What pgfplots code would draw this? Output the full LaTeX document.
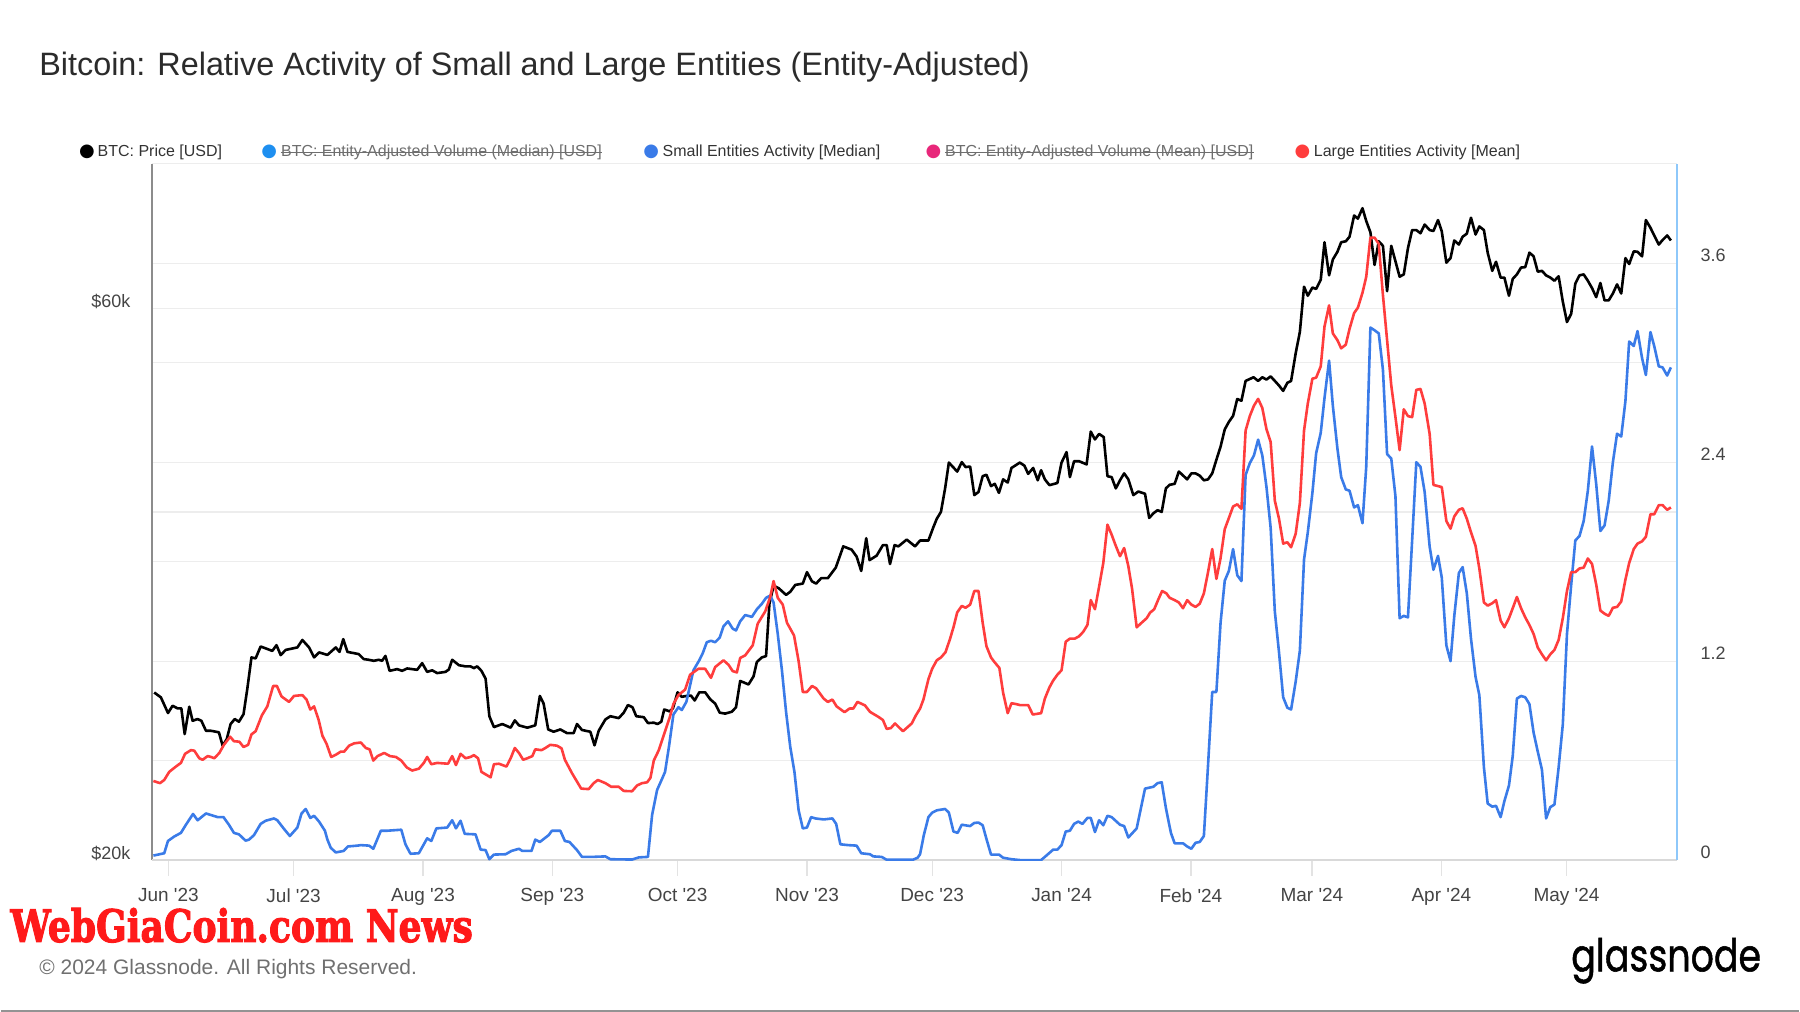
\documentclass[border=0pt]{standalone}
\usepackage{pgfplots}
\pgfplotsset{compat=1.18}
\usepackage{fontspec}
\usepackage{graphicx}
\setmainfont{Liberation Sans}
\newfontfamily\popfont{Poppins}[FakeBold=1.2]
\newfontfamily\wmfont{DejaVu Serif}[BoldFeatures={FakeBold=2.5}]
\newfontfamily\dejavu{DejaVu Sans}
\definecolor{blueS}{HTML}{3A7BE8}
\definecolor{redL}{HTML}{FF3D3D}
\definecolor{blueV}{HTML}{1E8FF0}
\definecolor{pinkV}{HTML}{E8277A}
\definecolor{gridc}{HTML}{EDEDED}
\definecolor{leftaxis}{HTML}{8C8C8C}
\definecolor{rightaxis}{HTML}{8EC8FA}
\definecolor{bottomaxis}{HTML}{D9D9D9}
\definecolor{tickc}{HTML}{E3E3E3}
\definecolor{ticktext}{HTML}{444444}
\definecolor{titlec}{HTML}{2B2B2B}
\definecolor{legtext}{HTML}{333333}
\definecolor{striketext}{HTML}{6E6E6E}
\definecolor{copyc}{HTML}{707070}
\definecolor{wmred}{HTML}{FF1A1A}
\begin{document}
\begin{tikzpicture}
\path (0,0) rectangle (900pt,506.5pt);
% ---------------- price axis (left, log) ----------------
\begin{axis}[
  set layers,
  at={(75.75pt,76pt)}, anchor=south west,
  scale only axis, width=763.25pt, height=348.5pt,
  xmin=-3.85, xmax=361.5,
  ymode=log, ymin=20, ymax=80,
  axis x line=none,
  axis y line*=left,
  y axis line style={draw=leftaxis, line width=0.9pt, -},
  ytick={20,40,60,80}, yticklabels={\$20k,,\$60k,},
  xtick=\empty,
  ymajorgrids, grid style={draw=gridc, line width=0.6pt},
  major tick length=0pt,
  yticklabel style={anchor=base east, inner sep=0pt, xshift=-10.75pt, yshift=0.5pt, font=\fontsize{9}{10}\selectfont, text=ticktext},
]
\addplot[black, line width=1.3pt, line join=round] coordinates {
(-3.4,27.92) (-1.8,27.65) (-0.1,26.80) (1.0,27.19) (2.2,27.05) (3.1,27.05) (3.9,25.70) (5.0,27.14) (5.8,26.39) (7.0,26.48) (7.9,26.39) (9.0,25.87) (10.2,25.87) (12.1,25.79) (13.0,25.11) (14.0,25.45) (14.9,26.22) (15.9,26.48) (16.9,26.34) (18.0,26.74) (18.9,28.11) (19.9,29.94) (20.9,29.88) (22.1,30.60) (24.9,30.33) (25.9,30.68) (26.9,30.08) (28.1,30.39) (30.9,30.54) (32.1,31.00) (33.7,30.54) (34.9,29.94) (36.1,30.24) (38.1,30.09) (40.1,30.54) (41.0,30.27) (41.9,31.05) (42.9,30.27) (45.6,30.14) (46.8,29.84) (48.0,29.80) (49.2,29.74) (50.4,29.80) (51.2,29.74) (52.0,30.03) (53.0,29.15) (54.8,29.25) (56.0,29.15) (57.2,29.29) (59.6,29.21) (60.8,29.60) (62.0,29.09) (63.2,29.18) (64.4,29.02) (66.4,29.09) (67.2,29.23) (68.0,29.80) (69.6,29.48) (71.2,29.41) (72.4,29.41) (73.2,29.31) (74.0,29.41) (75.0,29.15) (76.0,28.70) (76.9,26.63) (78.0,26.06) (80.0,26.22) (82.0,26.03) (83.0,26.41) (84.0,26.15) (86.0,26.03) (87.9,26.15) (89.0,27.73) (89.9,27.31) (91.0,25.94) (92.3,25.82) (93.9,25.94) (95.5,25.75) (97.1,25.75) (97.9,26.22) (99.1,25.91) (101.1,25.82) (102.1,25.13) (103.1,25.87) (104.7,26.46) (105.9,26.63) (107.9,26.53) (109.1,26.82) (110.1,27.23) (111.2,27.11) (112.1,26.63) (113.9,26.58) (114.9,26.27) (116.3,26.29) (117.2,26.22) (118.1,26.34) (118.8,26.99) (120.1,26.89) (120.9,27.06) (122.0,27.93) (123.0,27.68) (124.2,27.73) (125.2,27.75) (126.1,27.48) (127.2,27.93) (128.6,27.93) (129.8,27.55) (131.0,27.31) (132.1,26.82) (133.4,26.77) (135.0,26.87) (136.0,27.11) (137.0,28.57) (139.0,28.37) (140.2,28.83) (141.0,29.67) (142.2,29.94) (143.2,30.02) (144.0,33.31) (145.0,34.53) (146.2,34.37) (148.0,33.91) (149.0,34.12) (150.2,34.59) (152.0,34.68) (153.0,35.48) (154.2,34.84) (155.2,34.68) (156.4,35.06) (158.0,35.06) (159.9,35.80) (161.7,37.35) (163.7,37.11) (164.9,36.60) (166.0,35.57) (167.2,37.96) (168.0,36.34) (169.7,36.67) (171.2,37.45) (172.1,37.45) (172.9,36.06) (174.0,37.45) (174.9,37.35) (176.9,37.86) (178.9,37.35) (180.1,37.79) (182.1,37.79) (183.3,38.82) (184.1,39.46) (185.1,40.00) (186.1,41.92) (187.0,44.13) (189.0,43.35) (190.1,44.17) (191.0,43.74) (192.1,43.78) (193.1,41.36) (194.1,41.62) (195.1,42.95) (196.0,43.07) (197.1,42.11) (198.0,42.30) (199.0,41.55) (200.0,42.68) (201.1,42.41) (202.0,43.66) (204.0,44.13) (205.1,43.86) (206.0,43.15) (207.2,43.66) (208.3,42.60) (209.1,43.46) (210.0,42.68) (211.1,42.19) (213.0,42.37) (214.0,44.13) (215.2,45.06) (216.0,42.87) (217.0,44.25) (218.2,44.25) (220.0,43.97) (221.0,46.93) (222.0,46.21) (223.0,46.72) (224.1,46.43) (225.0,42.95) (226.0,42.87) (227.0,41.92) (228.0,42.60) (229.0,43.19) (230.0,42.68) (231.2,41.36) (232.4,41.66) (234.0,41.47) (235.0,39.53) (236.0,39.89) (237.0,40.14) (238.0,40.00) (239.0,41.92) (239.9,42.22) (241.1,42.30) (242.1,43.35) (244.1,42.68) (245.1,43.19) (246.1,43.19) (247.1,43.00) (248.1,42.60) (249.1,42.68) (250.1,43.19) (251.1,44.38) (252.1,45.55) (253.1,47.14) (254.1,47.86) (255.1,48.43) (256.1,50.09) (257.1,49.91) (258.1,51.92) (260.0,52.30) (261.1,51.92) (262.1,52.30) (263.1,52.06) (264.1,52.39) (265.1,51.92) (266.1,51.45) (267.1,50.90) (268.1,51.73) (269.0,51.92) (270.1,54.87) (271.1,57.24) (272.1,62.64) (273.0,61.52) (274.1,62.53) (275.0,62.36) (276.1,63.50) (277.0,68.44) (278.1,64.07) (279.0,66.13) (280.1,67.15) (281.0,68.44) (282.1,68.56) (283.0,69.19) (284.1,72.18) (285.0,71.73) (286.1,73.23) (287.0,71.41) (288.0,69.81) (289.0,65.41) (290.0,68.56) (291.0,67.95) (292.0,62.08) (293.0,67.95) (295.0,63.90) (296.0,64.19) (297.0,67.64) (298.0,70.12) (299.0,70.12) (300.0,69.68) (301.0,70.89) (302.2,70.12) (303.1,69.99) (304.2,71.53) (305.1,69.93) (306.2,65.71) (307.2,66.31) (308.1,68.68) (309.2,68.12) (310.1,69.19) (311.1,69.62) (312.1,71.86) (313.2,69.50) (314.1,70.63) (315.2,70.12) (316.1,67.03) (317.2,64.65) (318.1,65.83) (319.2,63.79) (320.1,63.79) (321.2,61.52) (322.1,63.62) (323.1,64.19) (324.1,65.07) (325.1,65.13) (326.1,67.03) (327.1,66.55) (328.1,64.54) (329.1,64.65) (330.1,64.07) (331.1,63.79) (332.1,63.39) (333.1,63.96) (334.1,60.80) (335.1,58.38) (336.1,59.34) (337.1,63.04) (338.1,64.07) (339.1,64.19) (340.1,63.39) (341.1,62.47) (342.1,61.35) (343.1,63.10) (344.1,60.96) (345.1,60.96) (346.1,61.80) (347.1,62.93) (348.1,61.80) (349.1,66.31) (350.0,65.53) (351.1,67.21) (352.0,67.15) (353.1,66.55) (354.0,71.53) (355.1,70.44) (356.0,69.37) (357.1,68.12) (358.0,68.74) (359.1,69.37) (360.0,68.68)
};
\end{axis}
% ---------------- activity axis (right) ----------------
\begin{axis}[
  set layers,
  at={(75.75pt,76pt)}, anchor=south west,
  scale only axis, width=763.25pt, height=348.5pt,
  xmin=-3.85, xmax=361.5, ymin=0, ymax=4.2,
  axis x line*=bottom, axis y line*=right,
  x axis line style={draw=bottomaxis, line width=0.8pt, -},
  y axis line style={draw=rightaxis, line width=0.9pt, -},
  xtick={0,30,61,92,122,153,183,214,245,274,305,335},
  xticklabels={Jun \textquotesingle 23,Jul \textquotesingle 23,Aug \textquotesingle 23,Sep \textquotesingle 23,Oct \textquotesingle 23,Nov \textquotesingle 23,Dec \textquotesingle 23,Jan \textquotesingle 24,Feb \textquotesingle 24,Mar \textquotesingle 24,Apr \textquotesingle 24,May \textquotesingle 24},
  ytick={0,0.6,1.2,1.8,2.4,3.0,3.6}, yticklabels={0,,1.2,,2.4,,3.6},
  ymajorgrids, grid style={draw=gridc, line width=0.6pt},
  tick align=outside, major tick length=8pt,
  xtick style={draw=tickc, line width=0.6pt},
  ytick style={draw=none},
  xticklabel style={anchor=north, inner sep=0pt, yshift=-6pt, font=\fontsize{9.5}{11}\selectfont, text=ticktext},
  yticklabel style={anchor=base west, inner sep=0pt, xshift=3.5pt, yshift=0.7pt, font=\fontsize{9}{10}\selectfont, text=ticktext},
]
\addplot[blueS, line width=1.3pt, line join=round] coordinates {
(-3.6,0.027) (-1.0,0.041) (-0.1,0.115) (1.4,0.142) (3.0,0.164) (4.2,0.213) (5.9,0.278) (7.0,0.240) (9.0,0.281) (11.8,0.259) (13.2,0.259) (14.5,0.213) (15.7,0.164) (16.9,0.155) (18.5,0.117) (19.3,0.123) (20.5,0.150) (22.1,0.218) (23.3,0.237) (25.3,0.251) (26.1,0.240) (27.6,0.191) (29.1,0.145) (30.9,0.196) (31.9,0.281) (32.9,0.308) (34.0,0.254) (34.9,0.267) (36.1,0.232) (37.5,0.177) (38.1,0.123) (38.9,0.074) (40.1,0.046) (42.0,0.055) (43.0,0.082) (45.3,0.087) (46.1,0.090) (48.1,0.087) (49.1,0.068) (50.9,0.177) (52.5,0.177) (55.8,0.183) (56.8,0.095) (58.0,0.038) (60.0,0.041) (62.0,0.131) (63.0,0.115) (64.2,0.191) (66.8,0.196) (68.0,0.240) (68.9,0.191) (70.0,0.237) (71.0,0.158) (73.6,0.155) (74.8,0.063) (76.0,0.060) (76.9,0.005) (78.0,0.033) (80.8,0.035) (82.2,0.055) (84.0,0.068) (84.8,0.055) (87.0,0.055) (87.9,0.123) (89.0,0.109) (91.1,0.150) (91.9,0.177) (93.9,0.177) (95.0,0.115) (96.1,0.109) (97.9,0.060) (99.1,0.019) (101.5,0.019) (104.7,0.022) (105.9,0.005) (111.1,0.003) (112.7,0.016) (114.9,0.019) (115.9,0.273) (117.1,0.423) (118.3,0.491) (119.0,0.532) (120.0,0.695) (121.0,0.878) (122.2,0.922) (123.0,0.905) (124.1,0.954) (125.2,1.077) (125.8,1.145) (127.2,1.205) (128.0,1.246) (129.0,1.314) (130.0,1.323) (131.0,1.314) (132.1,1.342) (133.0,1.410) (134.1,1.440) (135.2,1.396) (136.0,1.385) (137.0,1.440) (138.2,1.478) (139.8,1.467) (141.0,1.513) (142.2,1.546) (143.2,1.582) (144.2,1.595) (145.0,1.554) (146.0,1.364) (147.0,1.145) (148.0,0.892) (149.0,0.682) (150.0,0.532) (151.0,0.300) (152.0,0.191) (153.0,0.196) (154.0,0.259) (155.0,0.251) (157.0,0.245) (159.1,0.251) (160.0,0.218) (161.0,0.095) (162.9,0.090) (164.9,0.087) (166.0,0.041) (168.1,0.035) (168.9,0.022) (170.9,0.019) (172.0,0.003) (178.5,0.003) (179.5,0.014) (180.1,0.035) (181.0,0.150) (182.1,0.259) (183.0,0.286) (184.1,0.300) (186.1,0.308) (187.0,0.286) (188.1,0.172) (189.1,0.164) (190.1,0.213) (192.1,0.205) (193.1,0.224) (194.1,0.226) (195.1,0.210) (196.0,0.128) (197.1,0.033) (199.0,0.033) (200.0,0.014) (202.0,0.005) (204.0,0.0) (209.1,0.0) (210.0,0.019) (212.0,0.063) (213.0,0.063) (214.0,0.090) (215.0,0.172) (216.0,0.177) (217.0,0.218) (218.0,0.232) (219.0,0.218) (220.2,0.254) (221.0,0.254) (222.0,0.169) (223.0,0.240) (224.0,0.210) (225.0,0.267) (226.0,0.259) (228.0,0.213) (229.0,0.205) (230.0,0.136) (232.0,0.191) (234.0,0.431) (236.0,0.442) (237.0,0.464) (238.0,0.469) (239.0,0.314) (240.2,0.164) (241.1,0.101) (243.1,0.101) (244.1,0.082) (245.1,0.068) (246.1,0.104) (247.1,0.109) (248.1,0.145) (249.1,0.573) (250.1,1.014) (251.1,1.014) (252.1,1.432) (253.1,1.685) (254.1,1.745) (255.1,1.876) (256.1,1.718) (257.1,1.683) (258.1,2.323) (259.1,2.394) (260.1,2.441) (261.1,2.536) (262.1,2.441) (263.1,2.250) (264.1,2.004) (265.1,1.500) (266.1,1.254) (267.1,0.982) (268.1,0.919) (269.0,0.908) (270.1,1.077) (271.1,1.263) (272.1,1.813) (273.0,1.977) (274.1,2.214) (275.0,2.454) (276.1,2.577) (277.0,2.787) (278.1,3.013) (279.0,2.741) (280.1,2.482) (281.0,2.310) (282.1,2.236) (283.0,2.228) (284.1,2.127) (285.0,2.141) (286.1,2.032) (287.0,2.372) (288.0,3.212) (289.0,3.196) (290.0,3.177) (291.0,2.959) (292.0,2.449) (293.0,2.422) (294.0,2.195) (295.0,1.459) (296.0,1.473) (297.0,1.464) (298.0,1.928) (299.0,2.400) (300.0,2.372) (301.0,2.220) (302.2,1.890) (303.1,1.751) (304.2,1.835) (305.1,1.704) (306.2,1.295) (307.2,1.200) (308.1,1.473) (309.2,1.732) (310.1,1.767) (311.1,1.609) (312.1,1.336) (313.2,1.104) (314.1,0.995) (315.2,0.559) (316.1,0.341) (317.2,0.322) (318.1,0.327) (319.2,0.259) (320.1,0.355) (321.2,0.450) (322.1,0.627) (323.1,0.974) (324.1,0.990) (325.1,0.982) (326.1,0.941) (327.1,0.769) (328.1,0.654) (329.1,0.545) (330.1,0.251) (331.1,0.319) (332.1,0.335) (333.1,0.559) (334.1,0.818) (335.1,1.364) (336.1,1.658) (337.1,1.928) (338.1,1.955) (339.1,2.045) (340.1,2.228) (341.1,2.495) (342.1,2.269) (343.1,1.985) (344.1,2.018) (345.1,2.168) (346.1,2.400) (347.1,2.572) (348.1,2.555) (349.1,2.768) (350.0,3.128) (351.1,3.101) (352.0,3.191) (353.1,3.027) (354.0,2.926) (355.1,3.185) (356.0,3.101) (357.1,2.978) (358.0,2.972) (359.1,2.923) (360.0,2.972)
};
\addplot[redL, line width=1.3pt, line join=round] coordinates {
(-3.6,0.477) (-2.0,0.464) (-1.0,0.483) (0.2,0.532) (1.8,0.564) (3.0,0.586) (4.0,0.641) (5.4,0.663) (6.2,0.660) (7.4,0.614) (8.2,0.605) (9.4,0.627) (10.2,0.622) (11.0,0.614) (12.2,0.646) (13.3,0.695) (14.8,0.744) (15.7,0.717) (17.0,0.714) (18.0,0.682) (19.1,0.695) (19.9,0.758) (20.9,0.777) (22.4,0.873) (23.7,0.927) (25.1,1.050) (26.0,1.050) (27.1,0.987) (28.9,0.954) (30.1,0.990) (32.1,0.995) (33.1,0.968) (34.0,0.908) (34.9,0.927) (36.0,0.845) (36.9,0.750) (37.9,0.701) (39.0,0.622) (40.1,0.635) (41.3,0.654) (42.1,0.654) (43.3,0.690) (44.5,0.704) (46.1,0.709) (47.3,0.676) (48.2,0.668) (49.1,0.600) (50.1,0.627) (51.7,0.646) (53.1,0.627) (54.5,0.622) (55.8,0.600) (57.1,0.559) (58.4,0.540) (60.0,0.551) (61.2,0.586) (62.0,0.622) (63.0,0.578) (64.4,0.586) (67.0,0.581) (68.0,0.627) (68.9,0.573) (70.0,0.641) (71.2,0.614) (72.4,0.622) (73.2,0.633) (74.2,0.614) (75.0,0.532) (77.2,0.499) (78.0,0.578) (79.2,0.581) (81.0,0.564) (82.0,0.614) (83.0,0.676) (84.0,0.646) (85.0,0.605) (86.0,0.614) (87.2,0.627) (87.9,0.668) (89.4,0.663) (90.2,0.674) (91.5,0.695) (93.1,0.690) (94.2,0.674) (95.0,0.605) (96.7,0.524) (98.9,0.431) (100.7,0.428) (101.9,0.464) (102.9,0.483) (104.7,0.464) (106.1,0.442) (107.9,0.442) (109.1,0.417) (111.1,0.415) (112.3,0.450) (113.5,0.464) (114.7,0.469) (115.5,0.496) (116.3,0.600) (117.5,0.663) (119.0,0.777) (120.1,0.859) (121.0,0.941) (122.2,0.995) (123.8,1.028) (125.0,1.118) (127.0,1.154) (128.6,1.154) (130.0,1.099) (131.0,1.164) (133.0,1.205) (134.2,1.178) (135.2,1.140) (136.2,1.132) (137.0,1.219) (138.2,1.235) (140.0,1.295) (141.2,1.426) (143.0,1.500) (144.2,1.587) (145.0,1.683) (146.0,1.582) (147.2,1.541) (148.2,1.432) (149.9,1.355) (151.0,1.200) (152.0,1.014) (153.0,1.014) (154.2,1.050) (155.2,1.036) (157.0,0.974) (158.0,0.954) (159.1,0.968) (160.1,0.927) (162.0,0.892) (163.2,0.914) (164.1,0.914) (165.1,0.954) (166.9,0.933) (168.1,0.894) (170.1,0.864) (171.2,0.845) (172.1,0.791) (173.1,0.796) (174.1,0.824) (176.0,0.777) (178.1,0.824) (179.1,0.873) (180.1,0.914) (180.9,0.968) (182.1,1.091) (183.0,1.154) (184.1,1.205) (185.1,1.222) (186.2,1.254) (187.3,1.336) (188.1,1.404) (189.0,1.494) (190.1,1.533) (191.0,1.522) (192.1,1.541) (193.1,1.623) (194.1,1.623) (195.1,1.432) (196.0,1.290) (197.1,1.222) (198.0,1.192) (199.1,1.159) (200.0,1.009) (201.1,0.886) (202.0,0.946) (203.1,0.941) (204.0,0.935) (206.0,0.935) (207.1,0.878) (209.1,0.886) (210.0,0.974) (211.1,1.042) (212.0,1.083) (213.0,1.118) (214.0,1.145) (215.0,1.317) (216.0,1.336) (217.2,1.336) (218.2,1.350) (219.2,1.377) (220.2,1.418) (221.0,1.568) (222.0,1.513) (223.0,1.650) (224.0,1.792) (225.0,2.023) (226.0,1.963) (227.0,1.895) (228.0,1.833) (229.0,1.882) (230.0,1.773) (230.9,1.636) (232.0,1.404) (233.2,1.432) (234.4,1.459) (235.2,1.492) (236.2,1.513) (237.2,1.573) (238.1,1.623) (239.1,1.609) (239.9,1.582) (241.1,1.568) (242.1,1.554) (243.1,1.519) (244.1,1.568) (245.1,1.541) (246.1,1.527) (247.1,1.546) (248.1,1.609) (249.1,1.737) (250.1,1.876) (251.1,1.696) (252.1,1.822) (253.1,1.996) (254.1,2.064) (255.1,2.133) (256.1,2.146) (257.1,2.119) (258.1,2.591) (259.1,2.678) (260.1,2.741) (261.1,2.782) (262.1,2.727) (263.1,2.599) (264.1,2.522) (265.1,2.168) (266.1,2.059) (267.1,1.909) (268.1,1.917) (269.0,1.887) (270.1,1.969) (271.1,2.154) (272.1,2.591) (273.0,2.754) (274.1,2.904) (275.0,2.910) (276.1,2.978) (277.0,3.218) (278.1,3.346) (279.0,3.177) (280.1,3.136) (281.0,3.087) (282.1,3.109) (283.0,3.204) (284.1,3.300) (285.0,3.332) (286.1,3.422) (287.0,3.518) (288.0,3.755) (289.0,3.755) (290.0,3.717) (291.0,3.409) (292.0,3.136) (293.0,2.863) (294.0,2.672) (295.0,2.473) (296.0,2.719) (297.0,2.678) (298.0,2.672) (299.0,2.836) (300.0,2.842) (301.0,2.754) (302.2,2.570) (303.1,2.263) (305.1,2.250) (306.2,2.045) (307.2,1.999) (308.1,2.073) (309.2,2.113) (310.1,2.122) (311.1,2.059) (312.1,1.977) (313.2,1.895) (314.1,1.759) (315.2,1.554) (316.1,1.535) (317.2,1.549) (318.1,1.568) (319.2,1.445) (320.1,1.404) (321.2,1.459) (322.1,1.519) (323.1,1.587) (324.1,1.519) (325.1,1.464) (326.1,1.418) (327.1,1.364) (328.1,1.282) (329.1,1.241) (330.1,1.205) (331.1,1.241) (332.1,1.268) (333.1,1.328) (334.1,1.459) (335.1,1.623) (336.1,1.737) (337.1,1.737) (338.1,1.759) (339.1,1.764) (340.1,1.819) (341.1,1.786) (342.1,1.663) (343.1,1.505) (344.1,1.486) (345.1,1.473) (346.1,1.522) (347.1,1.527) (348.1,1.560) (349.1,1.691) (350.0,1.792) (351.1,1.876) (352.0,1.909) (353.1,1.923) (354.0,1.950) (355.1,2.086) (356.0,2.086) (357.1,2.141) (358.0,2.141) (359.1,2.113) (360.0,2.127)
};
\end{axis}
% ---------------- title, legend, footer ----------------
\node[anchor=west, inner sep=0pt, text=titlec, font=\fontsize{16.2}{19}\selectfont] at (19pt,472.8pt) {Bitcoin: Relative Activity of Small and Large Entities (Entity-Adjusted)};
\begin{scope}[every node/.style={inner sep=0pt, font=\fontsize{8}{9.5}\selectfont}]
\node[text=black, font=\fontsize{9}{10}\selectfont] at (43pt,430.3pt) {\dejavu ●};
\node[anchor=west, text=legtext] at (48.2pt,430.3pt) {BTC: Price [USD]};
\node[text=blueV, font=\fontsize{9}{10}\selectfont] at (134.3pt,430.3pt) {\dejavu ●};
\node[anchor=west, text=striketext] (s1) at (140pt,430.3pt) {BTC: Entity-Adjusted Volume (Median) [USD]};
\node[text=blueS, font=\fontsize{9}{10}\selectfont] at (325.5pt,430.3pt) {\dejavu ●};
\node[anchor=west, text=legtext] at (331pt,430.3pt) {Small Entities Activity [Median]};
\node[text=pinkV, font=\fontsize{9}{10}\selectfont] at (466.7pt,430.3pt) {\dejavu ●};
\node[anchor=west, text=striketext] (s2) at (472.4pt,430.3pt) {BTC: Entity-Adjusted Volume (Mean) [USD]};
\node[text=redL, font=\fontsize{9}{10}\selectfont] at (651.5pt,430.3pt) {\dejavu ●};
\node[anchor=west, text=legtext] at (657pt,430.3pt) {Large Entities Activity [Mean]};
\end{scope}
\draw[striketext, line width=0.5pt] (s1.west) -- (s1.east);
\draw[striketext, line width=0.5pt] (s2.west) -- (s2.east);
\node[anchor=south west, inner sep=0pt] at (4.5pt,34.5pt) {\resizebox{231.5pt}{17pt}{\color{wmred}\wmfont\bfseries WebGiaCoin.com News}};
\node[anchor=west, inner sep=0pt, text=copyc, font=\fontsize{10.5}{12}\selectfont] at (19pt,21.35pt) {© 2024 Glassnode. All Rights Reserved.};
\node[anchor=south west, inner sep=0pt] at (785.8pt,14pt) {\resizebox{95pt}{16.7pt}{\popfont glassnode}};
\draw[color=gray!85, line width=1pt] (0pt,0.6pt) -- (900pt,0.6pt);
\end{tikzpicture}
\end{document}
